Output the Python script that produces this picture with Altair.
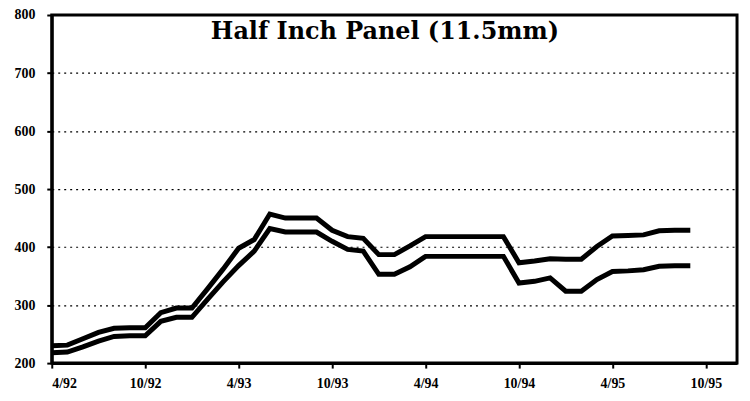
import altair as alt
import pandas as pd

# month index 0 = April 1992
months = list(range(42))
upper = [230, 231, 242, 253, 260, 261, 261, 287, 295, 295, 328, 362, 398, 413, 457,
         450, 450, 450, 429, 418, 415, 387, 387, 402, 418, 418, 418, 418, 418, 418,
         373, 376, 380, 379, 379, 401, 419, 420, 421, 428, 429, 429]
lower = [218, 219, 228, 238, 246, 247, 247, 272, 279, 279, 310, 340, 368, 393, 432,
         426, 426, 426, 410, 396, 393, 353, 353, 366, 384, 384, 384, 384, 384, 384,
         338, 341, 347, 324, 324, 344, 358, 359, 361, 367, 368, 368]
tick_months = [0, 6, 12, 18, 24, 30, 36, 42]
tick_labels = ["4/92", "10/92", "4/93", "10/93", "4/94", "10/94", "4/95", "10/95"]
y_ticks = [200, 300, 400, 500, 600, 700, 800]
title_text = "Half Inch Panel (11.5mm)"

df = pd.DataFrame({
    "month": months * 2,
    "price": upper + lower,
    "series": ["upper"] * len(upper) + ["lower"] * len(lower),
})

label_expr = "[" + ",".join("'" + t + "'" for t in tick_labels) + "][round(datum.value/6)]"

lines = alt.Chart(df).mark_line(color="black", strokeWidth=5, strokeJoin="miter", strokeCap="butt").encode(
    x=alt.X("month:Q",
            scale=alt.Scale(domain=[0, 44], nice=False, zero=False),
            axis=alt.Axis(values=tick_months, labelExpr=label_expr, title=None, grid=False,
                          tickSize=5, labelPadding=9)),
    y=alt.Y("price:Q",
            scale=alt.Scale(domain=[200, 800], nice=False, zero=False),
            axis=alt.Axis(values=y_ticks, title=None, grid=True, gridColor="black",
                          gridDash=[2, 4], gridWidth=1.2, tickSize=5, labelPadding=12)),
    detail="series:N",
)

title = alt.Chart(pd.DataFrame({"t": [title_text]})).mark_text(
    font="DejaVu Serif", fontSize=24, fontWeight="bold", color="black",
    baseline="alphabetic", align="center"
).encode(x=alt.value(335), y=alt.value(24), text="t:N")

chart = alt.layer(lines, title).properties(
    width=689, height=350,
    autosize=alt.AutoSizeParams(type="none"),
    padding={"left": 44, "top": 6, "right": 5, "bottom": 29},
).configure_view(
    stroke="black", strokeWidth=3
).configure_axis(
    domainColor="black", domainWidth=3, tickColor="black", tickWidth=2,
    labelFont="Times New Roman, Liberation Serif, serif", labelFontWeight="bold",
    labelFontSize=14, labelColor="black",
)

chart.save("out.html", embed_options={"renderer": "svg", "actions": False})
